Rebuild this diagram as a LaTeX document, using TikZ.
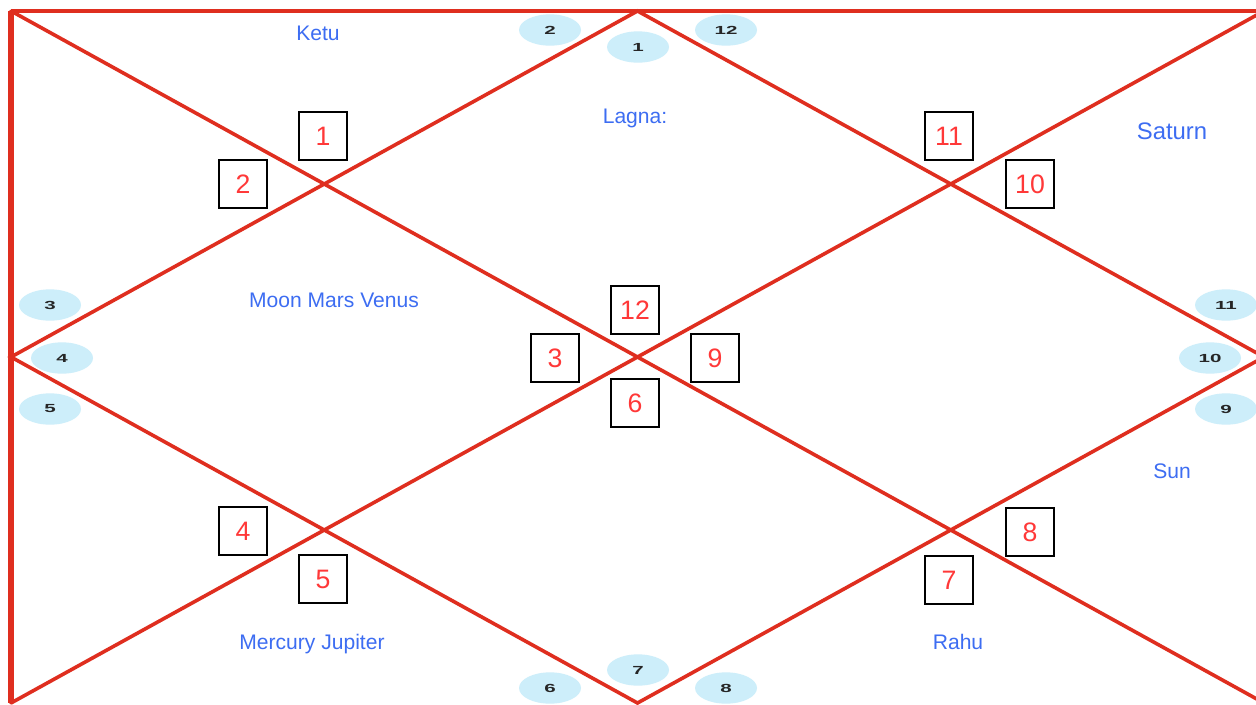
\documentclass[tikz,border=0pt]{standalone}
\usepackage{fontspec}
\usepackage{graphicx}
\setmainfont{Liberation Sans}
\definecolor{chartred}{HTML}{DF2E1F}
\definecolor{numred}{HTML}{FF3838}
\definecolor{planetblue}{HTML}{3D6DF2}
\definecolor{bubble}{HTML}{CDEEFA}
\usetikzlibrary{shapes.geometric}
\tikzset{
  chartline/.style={draw=chartred, line width=2.7pt, line cap=round},
  borderline/.style={draw=chartred, line width=3pt},
  leftline/.style={draw=chartred, line width=4.5pt},
  housebox/.style={draw=black, line width=0.8pt, minimum width=36pt, minimum height=36pt, inner sep=0pt, text=numred, font=\fontsize{20}{21}\selectfont},
  signbubble/.style={ellipse, fill=bubble, minimum width=46.5pt, minimum height=23.5pt, inner sep=0pt, font=\fontsize{8.8}{9}\bfseries\selectfont, text=black!85},
  planet/.style={text=planetblue, inner sep=0pt, anchor=base, font=\fontsize{15.8}{17}\selectfont},
  bigplanet/.style={text=planetblue, inner sep=0pt, anchor=base, font=\fontsize{17.9}{19}\selectfont}
}
\newcommand{\wide}[1]{\scalebox{1.75}[1]{#1}}
\begin{document}
\begin{tikzpicture}[x=0.75pt, y=-0.75pt]
\clip (0,0) rectangle (1256,704);
\fill[white] (0,0) rectangle (1256,704);
% corners and mid points
\coordinate (TL) at (11,11);
\coordinate (TR) at (1264,11);
\coordinate (BL) at (11,703);
\coordinate (BR) at (1264,703);
\coordinate (TM) at (637.5,11);
\coordinate (LM) at (11,357);
\coordinate (BM) at (637.5,703);
\coordinate (RM) at (1264,357);
% diagonals
\draw[chartline] (TL) -- (BR);
\draw[chartline] (BL) -- (TR);
% diamond
\draw[chartline] (TM) -- (LM) -- (BM) -- (RM) -- cycle;
% borders
\draw[borderline] (TL) -- (TR);
\draw[leftline] (TL) -- (BL);
% house number boxes
\node[housebox] (h1) at (323,136) {1};
\node[housebox] (h2) at (243,184) {2};
\node[housebox] (h11) at (949,136) {11};
\node[housebox] (h10) at (1030,184) {10};
\node[housebox] (h12) at (635,310) {12};
\node[housebox] (h3) at (555,358) {3};
\node[housebox] (h9) at (715,358) {9};
\node[housebox] (h6) at (635,403) {6};
\node[housebox] (h4) at (243,531) {4};
\node[housebox] (h5) at (323,579) {5};
\node[housebox] (h8) at (1030,532) {8};
\node[housebox] (h7) at (949,580) {7};
% sign bubbles
\node[signbubble] (s2) at (550,30) {\wide{2}};
\node[signbubble] (s1) at (638,47) {\wide{1}};
\node[signbubble] (s12) at (726,30) {\wide{12}};
\node[signbubble] (s3) at (50,305) {\wide{3}};
\node[signbubble] (s4) at (62,358) {\wide{4}};
\node[signbubble] (s5) at (50,409) {\wide{5}};
\node[signbubble] (s11) at (1226,305) {\wide{11}};
\node[signbubble] (s10) at (1210,358) {\wide{10}};
\node[signbubble] (s9) at (1226,409) {\wide{9}};
\node[signbubble] (s7) at (638,670) {\wide{7}};
\node[signbubble] (s6) at (550,688) {\wide{6}};
\node[signbubble] (s8) at (726,688) {\wide{8}};
% planets
\node[planet] (ketu) at (318,40.5) {Ketu};
\node[planet] (lagna) at (635,123.5) {Lagna:};
\node[bigplanet] (saturn) at (1172,139.5) {Saturn};
\node[planet] (mmv) at (334,307.5) {Moon Mars Venus};
\node[planet] (sun) at (1172,478.5) {Sun};
\node[planet] (mj) at (312,649.5) {Mercury Jupiter};
\node[planet] (rahu) at (958,649.5) {Rahu};
\end{tikzpicture}
\end{document}
